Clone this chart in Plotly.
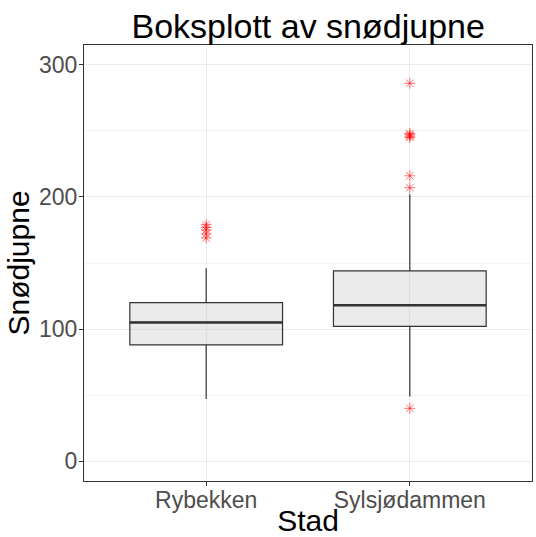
import plotly.graph_objects as go

categories = ["Rybekken", "Sylsjødammen"]
q1 = [88, 102]
medians = [105, 118]
q3 = [120, 144]
lower_whisker = [47, 49]
upper_whisker = [146, 202]
outliers = [
    [169, 172, 175, 177, 179],
    [40, 207, 216, 245, 246, 247, 248, 286],
]
y_ticks = [0, 100, 200, 300]

BOX_WIDTH = 0.75
OUTLIER_COLOR = "rgba(255,0,0,0.55)"
positions = list(range(1, len(categories) + 1))

fig = go.Figure()
for i, pos in enumerate(positions):
    fig.add_trace(go.Box(
        x=[pos], q1=[q1[i]], median=[medians[i]], q3=[q3[i]],
        lowerfence=[lower_whisker[i]], upperfence=[upper_whisker[i]],
        width=BOX_WIDTH, whiskerwidth=0,
        fillcolor="rgba(190,190,190,0.33)",
        line=dict(color="#333333", width=1.2),
        boxpoints=False, showlegend=False, hoverinfo="skip",
    ))
    # thick median line, ggplot style
    fig.add_trace(go.Scatter(
        x=[pos - BOX_WIDTH / 2, pos + BOX_WIDTH / 2],
        y=[medians[i], medians[i]],
        mode="lines", line=dict(color="#333333", width=2.6),
        showlegend=False, hoverinfo="skip",
    ))
    fig.add_trace(go.Scatter(
        x=[pos] * len(outliers[i]), y=outliers[i], mode="markers",
        marker=dict(symbol="asterisk-open", size=9, color=OUTLIER_COLOR,
                    line=dict(color=OUTLIER_COLOR, width=1)),
        showlegend=False, hoverinfo="skip",
    ))

axis_common = dict(
    showline=True, linecolor="#333333", linewidth=1, mirror=True,
    ticks="outside", ticklen=4, tickcolor="#333333",
    tickfont=dict(size=23, color="#4D4D4D"),
    gridcolor="#EBEBEB", gridwidth=1, zeroline=False, automargin=False,
)

fig.update_layout(
    width=536, height=537,
    paper_bgcolor="white", plot_bgcolor="white",
    font=dict(family="Liberation Sans, Arial, sans-serif", color="black"),
    margin=dict(l=84, r=4, t=45, b=56),
    title=dict(text="Boksplott av snødjupne", x=0.575, xanchor="center",
               xref="container", yref="container",
               y=0.952, yanchor="middle", font=dict(size=34, color="black")),
    xaxis=dict(**axis_common, range=[0.4, 2.6], tickvals=positions,
               ticktext=categories, ticklabelstandoff=-6,
               title=dict(text="Stad", font=dict(size=30), standoff=0)),
    yaxis=dict(**axis_common, range=[-15, 315], tickvals=y_ticks,
               ticklabelstandoff=-3,
               minor=dict(dtick=50, showgrid=True, gridcolor="#F2F2F2",
                          gridwidth=0.6),
               title=dict(text="Snødjupne", font=dict(size=30), standoff=0)),
)

fig.write_html("out.html", config={"displayModeBar": False},
               post_script="document.body.style.margin='0px';")
